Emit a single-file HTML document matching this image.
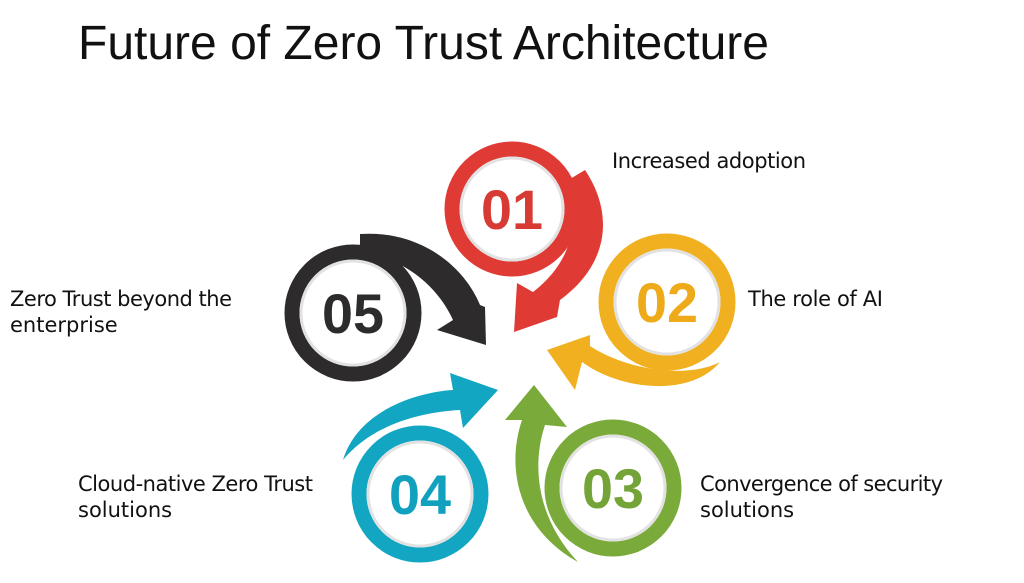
<!DOCTYPE html>
<html><head><meta charset="utf-8"><style>
body{margin:0;background:#fff;width:1024px;height:583px;overflow:hidden;font-family:"Liberation Sans",sans-serif}
svg{position:absolute;left:0;top:0}
</style></head><body>
<svg width="1024" height="583" viewBox="0 0 1024 583">
<text x="78" y="59" font-size="48" fill="#111">Future of Zero Trust Architecture</text>
<g font-size="21" fill="#111" font-family="DejaVu Sans, Liberation Sans, sans-serif">
<text x="612" y="168" textLength="194">Increased adoption</text>
<text x="748" y="306" textLength="135">The role of AI</text>
<text x="700" y="491" textLength="243">Convergence of security</text>
<text x="700" y="517">solutions</text>
<text x="78" y="491" textLength="235">Cloud-native Zero Trust</text>
<text x="78" y="517">solutions</text>
<text x="10" y="306" textLength="222">Zero Trust beyond the</text>
<text x="10" y="332">enterprise</text>
</g>
<path d="M585,170 C615,215 608,265 560,300 L557,317 L514,332 L517,283 L533,292 C572,262 582,220 565,182 Z" fill="#e03a35"/>
<path d="M360,234 C422,230 465,268 480,305 L485,307 L486,345 L437,330 L453,320 C438,287 405,258 360,252 Z" fill="#2d2b2b"/>
<path d="M720,362 C690,398 620,390 582,362 L575,390 L547,350 L590,335 L590,346 C630,372 690,378 720,362 Z" fill="#f0b020"/>
<path d="M578,562 C520,530 505,470 522,420 L505,420 L534,385 L567,427 L545,425 C530,470 540,522 578,562 Z" fill="#7aaa3a"/>
<path d="M343,460 C358,410 418,392 453,390 L450,373 L498,390 L463,428 L460,410 C420,412 372,425 343,460 Z" fill="#13a6c2"/>
<g stroke-width="15" fill="#fff">
<circle cx="512" cy="209" r="60" stroke="#e03a35"/>
<circle cx="667" cy="302" r="61" stroke="#f0b020"/>
<circle cx="613" cy="488" r="61" stroke="#7aaa3a"/>
<circle cx="420" cy="494" r="61" stroke="#13a6c2"/>
<circle cx="353" cy="313" r="61" stroke="#2d2b2b"/>
</g>
<g fill="none" stroke="#e2e2e2" stroke-width="3">
<circle cx="512" cy="209" r="51"/><circle cx="667" cy="302" r="52"/><circle cx="613" cy="488" r="52"/><circle cx="420" cy="494" r="52"/><circle cx="353" cy="313" r="52"/>
</g>
<g font-size="56" font-weight="bold" text-anchor="middle">
<text x="512" y="229" fill="#d83a34" textLength="62" lengthAdjust="spacingAndGlyphs">01</text>
<text x="667" y="322" fill="#eeaa18" textLength="62" lengthAdjust="spacingAndGlyphs">02</text>
<text x="613" y="508" fill="#74a338" textLength="62" lengthAdjust="spacingAndGlyphs">03</text>
<text x="420" y="514" fill="#11a0bd" textLength="62" lengthAdjust="spacingAndGlyphs">04</text>
<text x="353" y="333" fill="#2d2b2b" textLength="62" lengthAdjust="spacingAndGlyphs">05</text>
</g>
</svg>
</body></html>
